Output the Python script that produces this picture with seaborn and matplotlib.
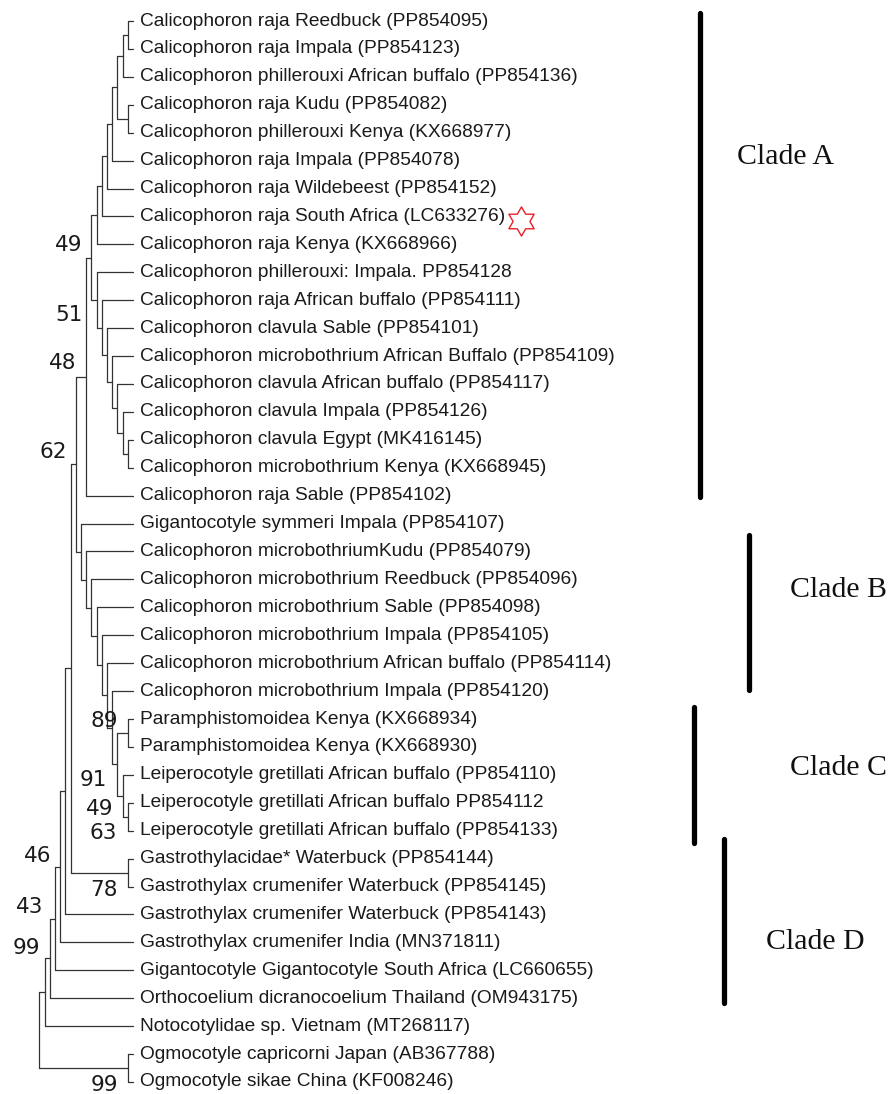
import numpy as np
import pandas as pd
import matplotlib.pyplot as plt
import seaborn as sns
from matplotlib.path import Path

# Leaf labels, top to bottom
leaves = [
    "Calicophoron raja Reedbuck (PP854095)",
    "Calicophoron raja Impala (PP854123)",
    "Calicophoron phillerouxi African buffalo (PP854136)",
    "Calicophoron raja Kudu (PP854082)",
    "Calicophoron phillerouxi Kenya (KX668977)",
    "Calicophoron raja Impala (PP854078)",
    "Calicophoron raja Wildebeest (PP854152)",
    "Calicophoron raja South Africa (LC633276)",
    "Calicophoron raja Kenya (KX668966)",
    "Calicophoron phillerouxi: Impala. PP854128",
    "Calicophoron raja African buffalo (PP854111)",
    "Calicophoron clavula Sable (PP854101)",
    "Calicophoron microbothrium African Buffalo (PP854109)",
    "Calicophoron clavula African buffalo (PP854117)",
    "Calicophoron clavula Impala (PP854126)",
    "Calicophoron clavula Egypt (MK416145)",
    "Calicophoron microbothrium Kenya (KX668945)",
    "Calicophoron raja Sable (PP854102)",
    "Gigantocotyle symmeri Impala (PP854107)",
    "Calicophoron microbothriumKudu (PP854079)",
    "Calicophoron microbothrium Reedbuck (PP854096)",
    "Calicophoron microbothrium Sable (PP854098)",
    "Calicophoron microbothrium Impala (PP854105)",
    "Calicophoron microbothrium African buffalo (PP854114)",
    "Calicophoron microbothrium Impala (PP854120)",
    "Paramphistomoidea Kenya (KX668934)",
    "Paramphistomoidea Kenya (KX668930)",
    "Leiperocotyle gretillati African buffalo (PP854110)",
    "Leiperocotyle gretillati African buffalo PP854112",
    "Leiperocotyle gretillati African buffalo (PP854133)",
    "Gastrothylacidae* Waterbuck (PP854144)",
    "Gastrothylax crumenifer Waterbuck (PP854145)",
    "Gastrothylax crumenifer Waterbuck (PP854143)",
    "Gastrothylax crumenifer India (MN371811)",
    "Gigantocotyle Gigantocotyle South Africa (LC660655)",
    "Orthocoelium dicranocoelium Thailand (OM943175)",
    "Notocotylidae sp. Vietnam (MT268117)",
    "Ogmocotyle capricorni Japan (AB367788)",
    "Ogmocotyle sikae China (KF008246)",
]

# Tree topology (leaf indices), drawn as a cladogram
clade_a_top = (((((((0, 1), 2), (3, 4)), 5), 6), 7), 8)
clade_a_ladder = (9, (10, (11, (12, (13, (14, (15, 16)))))))
clade_a = ((clade_a_top, clade_a_ladder), 17)
clade_bc = (18, (19, (20, (21, (22, (23, (24, ((25, 26), (27, (28, 29))))))))))
tree = ((((((((clade_a, clade_bc), (30, 31)), 32), 33), 34), 35), 36), (37, 38))

# Bootstrap values as printed
boot_values = ["49", "51", "48", "62", "89", "91", "49", "63", "46", "78", "43", "99", "99"]
boot_x = [-9.8, -9.6, -10.8, -12.7, -2.9, -5.0, -3.85, -3.1, -15.6, -2.9, -17.3, -17.9, -2.9]
boot_y = [8.02, 10.53, 12.25, 15.44, 25.07, 27.18, 28.22, 29.08, 29.9, 31.12, 31.73, 33.2, 38.1]

# Clade brackets (leaf row units)
clade_names = ["Clade A", "Clade B", "Clade C", "Clade D"]
clade_start = [-0.29, 18.41, 24.57, 29.3]
clade_end = [17.05, 23.96, 29.44, 35.17]

# layout
bar_x = [109.0, 118.4, 107.9, 113.7]
name_x = [116.2, 126.4, 126.4, 121.8]
name_y = [4.87, 20.38, 26.75, 33.0]
star_leaf = 7
star_x = 74.6

edges = []
seg = 0


def layout(node):
    # returns (x, y, height); leaves sit at x=0, y=row
    global seg
    if isinstance(node, int):
        return 0.0, float(node), 0
    kids = [layout(k) for k in node]
    h = 1 + max(k[2] for k in kids)
    x = -h
    y = (kids[0][1] + kids[-1][1]) / 2
    edges.append({"seg": seg, "x": x, "y": kids[0][1]})
    edges.append({"seg": seg, "x": x, "y": kids[-1][1]})
    seg += 1
    for kx, ky, _ in kids:
        edges.append({"seg": seg, "x": x, "y": ky})
        edges.append({"seg": seg, "x": kx, "y": ky})
        seg += 1
    return x, y, h


layout(tree)
edges = pd.DataFrame(edges)

# six-pointed star outline (closed path)
ang = np.pi / 2 + np.arange(12) * np.pi / 6
rad = np.where(np.arange(12) % 2 == 0, 1.0, 0.577)
pts = np.column_stack([rad * np.cos(ang), rad * np.sin(ang)])
pts = np.vstack([pts, pts[:1]])
codes = [Path.MOVETO] + [Path.LINETO] * 11 + [Path.CLOSEPOLY]
hexagram = Path(pts, codes)

sns.set_theme(style="white")
plt.rcParams['font.family'] = ['Liberation Sans', 'DejaVu Sans']

fig = plt.figure(figsize=(8.94, 10.94), dpi=100)
ax = fig.add_axes([0, 0, 1, 1])

sns.lineplot(data=edges, x="x", y="y", units="seg", estimator=None, sort=False,
             color="#333333", linewidth=0.9, legend=False, ax=ax)

for i, name in enumerate(leaves):
    ax.text(1.35, i, name, va="center", ha="left", fontsize=13.8, color="#1a1a1a")

for v, bx, by in zip(boot_values, boot_x, boot_y):
    ax.text(bx, by, v, va="center", ha="right", fontsize=15.5,
            family="DejaVu Sans", color="#1a1a1a")

for x, s, e in zip(bar_x, clade_start, clade_end):
    ax.plot([x, x], [s, e], color="black", linewidth=3.8, solid_capstyle="round")

for name, nx, ny in zip(clade_names, name_x, name_y):
    ax.text(nx, ny, name, va="center", ha="left", fontsize=21.5,
            family="Liberation Serif", color="#111111")

ax.plot([star_x], [star_leaf + 0.15], marker=hexagram, markersize=21,
        markerfacecolor="white", markeredgecolor="#e8202a", markeredgewidth=1.0)

ax.set_xlim(-133 / 5.2, (894 - 133) / 5.2)
ax.set_ylim((1094 - 21) / 27.92, -21 / 27.92)
ax.axis("off")

plt.savefig("out.png", dpi=100)
